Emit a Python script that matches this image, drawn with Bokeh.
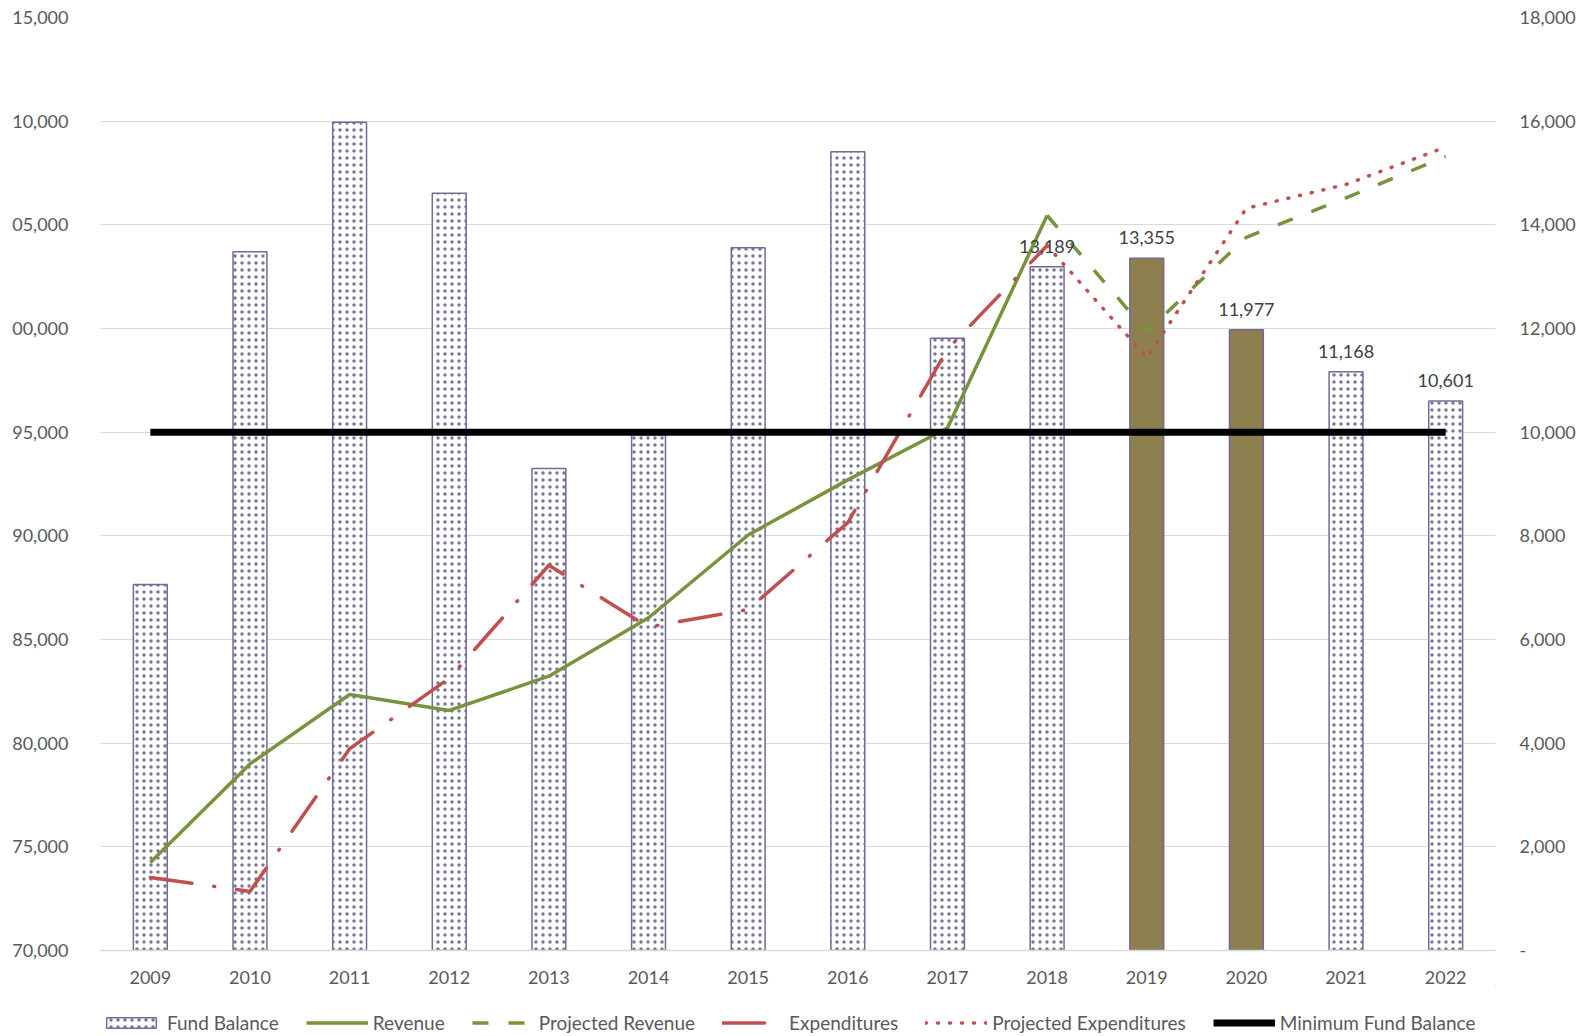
from bokeh.plotting import figure
from bokeh.layouts import column
from bokeh.models import (Range1d, LinearAxis, FactorRange, ColumnDataSource, Legend,
                          LegendItem, LabelSet, FixedTicker, NumeralTickFormatter)
from bokeh.embed import file_html
from bokeh.resources import INLINE
from bokeh.core.properties import value

# ---------------- data ----------------
years = ["2009", "2010", "2011", "2012", "2013", "2014", "2015",
         "2016", "2017", "2018", "2019", "2020", "2021", "2022"]
fund_balance = [7060, 13480, 15980, 14610, 9300, 9950, 13560,
                15410, 11810, 13189, 13355, 11977, 11168, 10601]
solid_years = ["2019", "2020"]
labeled_years = ["2018", "2019", "2020", "2021", "2022"]

revenue_years = ["2009", "2010", "2011", "2012", "2013", "2014", "2015", "2016", "2017", "2018"]
revenue = [74240, 79000, 82350, 81580, 83230, 86050, 90040, 92700, 95200, 105450]

proj_revenue_years = ["2018", "2019", "2020", "2021", "2022"]
proj_revenue = [105450, 99850, 104400, 106300, 108300]

expend_years = ["2009", "2010", "2011", "2012", "2013", "2014", "2015", "2016", "2017", "2018"]
expenditures = [73520, 72850, 79730, 83130, 88580, 85600, 86450, 90640, 99000, 104000]

proj_expend_years = ["2018", "2019", "2020", "2021", "2022"]
proj_expenditures = [104000, 98600, 105800, 106950, 108750]

min_fund_years = ["2009", "2022"]
min_fund_balance = [95000, 95000]

left_ticks = [70000, 75000, 80000, 85000, 90000, 95000, 100000, 105000, 110000, 115000]
left_tick_labels = ["70,000", "75,000", "80,000", "85,000", "90,000", "95,000",
                    "00,000", "05,000", "10,000", "15,000"]
right_ticks = [0, 2000, 4000, 6000, 8000, 10000, 12000, 14000, 16000, 18000]

# ---------------- styles ----------------
FONT = "Lato"
TXT = "#595959"
GREEN = "#77933C"
RED = "#C0504D"
OLIVE = "#8D7F4E"
OUTLINE = "#75699A"
HATCH = "#7A7594"
GRID = "#D9D9D9"

BAR_STYLE = dict(line_color=OUTLINE, line_width=1.5, hatch_color=HATCH, hatch_scale=7,
                 hatch_weight=1.0)
REV_STYLE = dict(line_color=GREEN, line_width=3.5)
PREV_STYLE = dict(line_color=GREEN, line_width=3.5, line_dash="16 20")
EXP_STYLE = dict(line_color=RED, line_width=3.5, line_dash="42 22 1 22", line_cap="round")
PEXP_STYLE = dict(line_color=RED, line_width=3.5, line_dash="1 11", line_cap="round")
MIN_STYLE = dict(line_color="black", line_width=7)

p = figure(width=1581, height=986, x_range=FactorRange(factors=years, range_padding=0),
           y_range=Range1d(70000, 115000), output_backend="svg", toolbar_location=None,
           min_border_left=100, min_border_right=86, min_border_top=17, min_border_bottom=36,
           outline_line_color=None)
p.extra_y_ranges = {"right": Range1d(0, 18000)}

# bars
bar_src = ColumnDataSource(dict(
    year=years, fb=fund_balance,
    fill=[OLIVE if y in solid_years else "white" for y in years],
    hatch=["blank" if y in solid_years else "dot" for y in years],
))
p.vbar(x="year", top="fb", width=0.34, bottom=0, source=bar_src, y_range_name="right",
       fill_color="fill", hatch_pattern="hatch", **BAR_STYLE)

labels_src = ColumnDataSource(dict(
    year=labeled_years,
    fb=[fund_balance[years.index(y)] for y in labeled_years],
    txt=["{:,}".format(fund_balance[years.index(y)]) for y in labeled_years],
))
p.add_layout(LabelSet(x="year", y="fb", text="txt", source=labels_src, y_range_name="right",
                      y_offset=14, text_align="center", text_baseline="bottom",
                      text_font=value(FONT), text_font_size="18px", text_color="#404040"))

# lines
p.line(revenue_years, revenue, **REV_STYLE)
p.line(proj_revenue_years, proj_revenue, **PREV_STYLE)
p.line(expend_years, expenditures, **EXP_STYLE)
p.line(proj_expend_years, proj_expenditures, **PEXP_STYLE)
p.line(min_fund_years, min_fund_balance, **MIN_STYLE)

# axes
p.yaxis.ticker = FixedTicker(ticks=left_ticks)
p.yaxis.major_label_overrides = {t: l for t, l in zip(left_ticks, left_tick_labels)}
right_axis = LinearAxis(y_range_name="right", ticker=FixedTicker(ticks=right_ticks),
                        formatter=NumeralTickFormatter(format="0,0"),
                        major_label_overrides={0: "-"})
p.add_layout(right_axis, "right")

for ax in [p.yaxis[0], right_axis]:
    ax.axis_line_color = None
    ax.major_tick_line_color = None
    ax.minor_tick_line_color = None
    ax.major_label_text_font = FONT
    ax.major_label_text_font_size = "18px"
    ax.major_label_text_color = TXT
p.yaxis[0].major_label_standoff = 26
right_axis.major_label_standoff = 18

p.xaxis.axis_line_color = GRID
p.xaxis.axis_line_width = 1.5
p.xaxis.major_tick_line_color = None
p.xaxis.minor_tick_line_color = None
p.xaxis.major_label_text_font = FONT
p.xaxis.major_label_text_font_size = "18px"
p.xaxis.major_label_text_color = TXT
p.xaxis.major_label_standoff = 14

p.xgrid.grid_line_color = None
p.ygrid.ticker = FixedTicker(ticks=left_ticks)
p.ygrid.grid_line_color = GRID
p.ygrid.grid_line_width = 1.2

# ---------------- legend strip ----------------
lg = figure(width=1581, height=50, x_range=Range1d(0, 1), y_range=Range1d(0, 1),
            output_backend="svg", toolbar_location=None, x_axis_location=None,
            y_axis_location=None, min_border=0, outline_line_color=None)
lg.grid.visible = False
# legend-only renderers, kept outside the visible range of the strip
g_bar = lg.vbar(x=[5], top=[5], bottom=[4], width=0.3, fill_color="white",
                hatch_pattern="dot", **BAR_STYLE)
g_rev = lg.line(x=[5, 6], y=[5, 5], **REV_STYLE)
g_prev = lg.line(x=[5, 6], y=[5, 5], **PREV_STYLE)
g_exp = lg.line(x=[5, 6], y=[5, 5], **EXP_STYLE)
g_pexp = lg.line(x=[5, 6], y=[5, 5], **PEXP_STYLE)
g_min = lg.line(x=[5, 6], y=[5, 5], **MIN_STYLE)

legend = Legend(items=[
    LegendItem(label="Fund Balance", renderers=[g_bar]),
    LegendItem(label="Revenue", renderers=[g_rev]),
    LegendItem(label="Projected Revenue", renderers=[g_prev]),
    LegendItem(label="Expenditures", renderers=[g_exp]),
    LegendItem(label="Projected Expenditures", renderers=[g_pexp]),
    LegendItem(label="Minimum Fund Balance", renderers=[g_min]),
], orientation="horizontal", location=(0, 2), label_text_font=FONT,
    label_text_font_size="19px", label_text_color=TXT, glyph_width=62, glyph_height=13,
    spacing=27, label_standoff=5, border_line_color=None, background_fill_alpha=0,
    padding=0, margin=0)
lg.add_layout(legend, "center")

layout = column(p, lg, spacing=0)
open("out.html", "w").write(file_html(layout, INLINE))
